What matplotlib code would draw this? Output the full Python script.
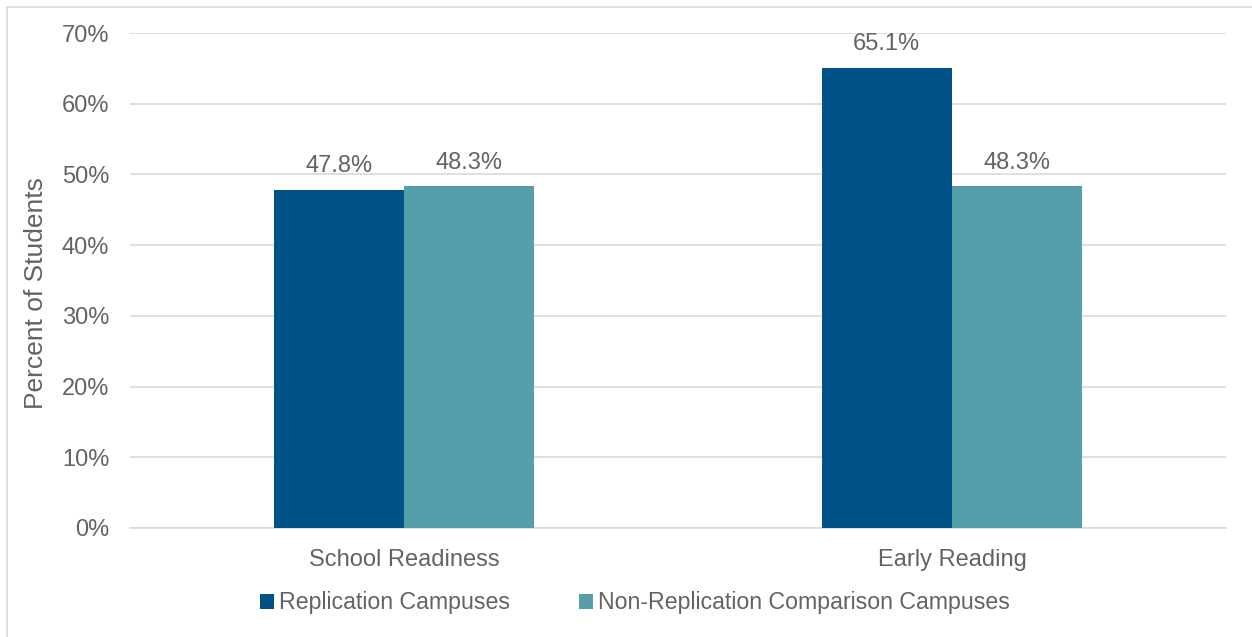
import numpy as np
import matplotlib.pyplot as plt
from matplotlib.patches import Rectangle

plt.rcParams['font.family'] = ['Liberation Sans', 'DejaVu Sans']

categories = ["School Readiness", "Early Reading"]
replication = [47.8, 65.1]
non_replication = [48.3, 48.3]
series_names = ["Replication Campuses", "Non-Replication Comparison Campuses"]

color_rep = "#005289"
color_non = "#559FAA"
text_gray = "#636363"

fig = plt.figure(figsize=(12.52, 6.37), dpi=100)
ax = fig.add_axes([130 / 1252, 1 - 528 / 637, 1096 / 1252, 495 / 637])

# marco gris claro del gráfico
fig.patches.append(Rectangle((7 / 1252, -0.01), 1.1, 1 - 7 / 637 + 0.01,
                             transform=fig.transFigure, fill=False,
                             edgecolor="#D9D9D9", linewidth=1.2))

x = np.arange(len(categories))
w = 0.238
b1 = ax.bar(x - w / 2, replication, w, color=color_rep, label=series_names[0], zorder=3)
b2 = ax.bar(x + w / 2, non_replication, w, color=color_non, label=series_names[1], zorder=3)

for bars, vals in [(b1, replication), (b2, non_replication)]:
    for r, v in zip(bars, vals):
        ax.text(r.get_x() + r.get_width() / 2, v + 2.5, f"{v:.1f}%",
                ha="center", va="baseline", fontsize=17, color=text_gray)

ax.set_xlim(-0.5, 1.5)
ax.set_ylim(0, 70)
ax.set_yticks(np.arange(0, 71, 10))
ax.set_yticklabels([f"{t}%" for t in range(0, 71, 10)])
ax.set_xticks(x)
ax.set_xticklabels(categories)
ax.tick_params(axis="both", length=0, labelsize=17, labelcolor=text_gray)
ax.tick_params(axis="x", pad=15)
ax.tick_params(axis="y", pad=15)
ax.grid(axis="y", color="#D9D9D9", linewidth=1.2, zorder=0)
for s in ["top", "right", "left"]:
    ax.spines[s].set_visible(False)
ax.spines["bottom"].set_color("#D9D9D9")
ax.spines["bottom"].set_linewidth(1.2)

ax.set_ylabel("Percent of Students", fontsize=19, color=text_gray)
ax.yaxis.set_label_coords(-0.075, 0.475)

fig.legend(loc="center", bbox_to_anchor=(635 / 1252, 1 - 603 / 637), ncol=2,
           frameon=False, fontsize=16.7, labelcolor=text_gray,
           handlelength=0.6, handleheight=0.6, handletextpad=0.2, columnspacing=3.0)

fig.savefig("out.png", dpi=100)
